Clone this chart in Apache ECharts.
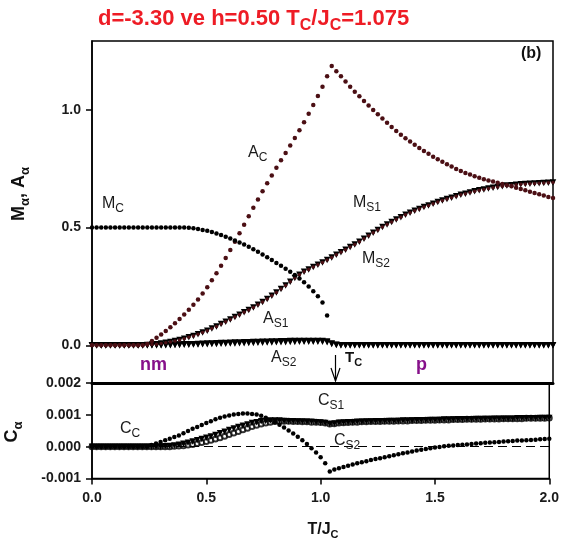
<!DOCTYPE html>
<html>
<head>
<meta charset="utf-8">
<script src="https://cdn.jsdelivr.net/npm/echarts@6/dist/echarts.min.js"></script>
<style>
html, body { margin: 0; padding: 0; background: #fff; }
#chart { width: 562px; height: 552px; }
</style>
</head>
<body>
<div id="chart"></div>
<script>
// temperature grid T/Jc, step 0.02 from 0 to 2
var temps = [];
for (var i = 0; i <= 100; i++) temps.push(+(i * 0.02).toFixed(2));

// upper panel: order parameters
var mC = [
  0.5, 0.5, 0.5, 0.5, 0.5, 0.5, 0.5, 0.5, 0.5, 0.5,
  0.5, 0.5, 0.5, 0.5, 0.5, 0.5, 0.5, 0.5, 0.5, 0.5,
  0.5, 0.499, 0.497, 0.494, 0.490, 0.486, 0.481, 0.475, 0.468, 0.461,
  0.453, 0.445, 0.437, 0.428, 0.418, 0.408, 0.397, 0.386, 0.374, 0.362,
  0.350, 0.338, 0.325, 0.312, 0.298, 0.284, 0.268, 0.250, 0.230, 0.208,
  0.182, 0.127
];
var aC = [
  0, 0, 0, 0, 0, 0, 0, 0, 0, 0,
  0, 0, 0.006, 0.018, 0.032, 0.046, 0.061, 0.077, 0.094, 0.112,
  0.131, 0.151, 0.172, 0.195, 0.220, 0.247, 0.276, 0.306, 0.338, 0.371,
  0.405, 0.440, 0.476, 0.512, 0.548, 0.584, 0.619, 0.654, 0.688, 0.721,
  0.754, 0.786, 0.817, 0.848, 0.880, 0.913, 0.947, 0.983, 1.020, 1.058,
  1.098, 1.142, 1.186, 1.164, 1.142, 1.120, 1.098, 1.077, 1.057, 1.037,
  1.018, 0.999, 0.981, 0.963, 0.945, 0.927, 0.910, 0.894, 0.879, 0.865,
  0.851, 0.838, 0.825, 0.813, 0.801, 0.790, 0.779, 0.769, 0.759, 0.749,
  0.740, 0.732, 0.725, 0.718, 0.711, 0.705, 0.700, 0.695, 0.690, 0.685,
  0.680, 0.675, 0.669, 0.664, 0.658, 0.652, 0.647, 0.641, 0.636, 0.630,
  0.625
];
var mS1 = [
  0, 0, 0, 0, 0, 0, 0, 0, 0, 0,
  0, 0, 0.001, 0.003, 0.005, 0.008, 0.011, 0.014, 0.018, 0.023,
  0.028, 0.034, 0.040, 0.047, 0.054, 0.062, 0.071, 0.080, 0.090, 0.100,
  0.110, 0.120, 0.130, 0.140, 0.150, 0.161, 0.172, 0.184, 0.197, 0.210,
  0.224, 0.239, 0.254, 0.270, 0.286, 0.300, 0.312, 0.322, 0.332, 0.342,
  0.352, 0.362, 0.373, 0.384, 0.395, 0.406, 0.417, 0.428, 0.440, 0.452,
  0.465, 0.478, 0.490, 0.502, 0.513, 0.524, 0.534, 0.544, 0.554, 0.563,
  0.571, 0.579, 0.587, 0.594, 0.601, 0.608, 0.615, 0.621, 0.627, 0.633,
  0.639, 0.644, 0.649, 0.654, 0.658, 0.662, 0.666, 0.669, 0.672, 0.675,
  0.678, 0.680, 0.682, 0.684, 0.685, 0.686, 0.687, 0.688, 0.689, 0.690,
  0.691
];
// M_S2 sits on top of M_S1 in the figure
var mS2 = mS1;
var aS1 = [
  0, 0, 0, 0, 0, 0, 0, 0, 0, 0,
  0, 0, 0, 0, 0, 0.0005, 0.001, 0.0015, 0.002, 0.003,
  0.004, 0.0045, 0.005, 0.006, 0.007, 0.0075, 0.008, 0.009, 0.0095, 0.010,
  0.011, 0.0115, 0.012, 0.013, 0.0135, 0.014, 0.0145, 0.015, 0.0155, 0.016,
  0.0165, 0.017, 0.0175, 0.018, 0.018, 0.0185, 0.0185, 0.0185, 0.0185, 0.0185,
  0.0185, 0.016, 0.008, 0.002, 0, 0, 0, 0, 0, 0,
  0, 0, 0, 0, 0, 0, 0, 0, 0, 0,
  0, 0, 0, 0, 0, 0, 0, 0, 0, 0,
  0, 0, 0, 0, 0, 0, 0, 0, 0, 0,
  0, 0, 0, 0, 0, 0, 0, 0, 0, 0,
  0
];
var aS2 = [
  0, 0, 0, 0, 0, 0, 0, 0, 0, 0,
  0, 0, 0, 0, 0, 0, 0, 0.0005, 0.001, 0.0015,
  0.002, 0.0025, 0.003, 0.0035, 0.004, 0.005, 0.0055, 0.006, 0.0065, 0.007,
  0.0075, 0.008, 0.0085, 0.009, 0.0095, 0.010, 0.0105, 0.011, 0.0115, 0.012,
  0.0125, 0.013, 0.0135, 0.014, 0.0145, 0.015, 0.015, 0.015, 0.015, 0.015,
  0.015, 0.013, 0.006, 0.001, 0, 0, 0, 0, 0, 0,
  0, 0, 0, 0, 0, 0, 0, 0, 0, 0,
  0, 0, 0, 0, 0, 0, 0, 0, 0, 0,
  0, 0, 0, 0, 0, 0, 0, 0, 0, 0,
  0, 0, 0, 0, 0, 0, 0, 0, 0, 0,
  0
];

// lower panel: response functions
var cC = [
  0, 0, 0, 0, 0, 0, 0, 0, 0, 0,
  0, 0, 0, 0.00005, 0.0001, 0.00015, 0.0002, 0.00025, 0.0003, 0.00035,
  0.00042, 0.00049, 0.00056, 0.00062, 0.00068, 0.00074, 0.0008, 0.00086, 0.00091, 0.00095,
  0.00098, 0.00101, 0.00103, 0.00104, 0.00104, 0.00103, 0.00101, 0.00097, 0.00091, 0.00084,
  0.00077, 0.00069, 0.0006, 0.00051, 0.00041, 0.00031, 0.0002, 0.00008, -0.00005, -0.00018,
  -0.00033, -0.00052, -0.00078, -0.00072, -0.00068, -0.00064, -0.0006, -0.00056, -0.00052, -0.00049,
  -0.00046, -0.00042, -0.00039, -0.00036, -0.00033, -0.0003, -0.00027, -0.00024, -0.00021, -0.00018,
  -0.00015, -0.00012, -0.0001, -0.00007, -0.00005, -0.00003, -0.00001, 0.00001, 0.00003, 0.00004,
  0.00005, 0.00006, 0.00007, 0.00008, 0.0001, 0.00011, 0.00012, 0.00013, 0.00014, 0.00015,
  0.00016, 0.00017, 0.00018, 0.00019, 0.00019, 0.0002, 0.00021, 0.00022, 0.00023, 0.00024,
  0.00025
];
var cS1 = [
  0, 0, 0, 0, 0, 0, 0, 0, 0, 0,
  0, 0, 0, 0, 0, 0, 0.00001, 0.00002, 0.00004, 0.00006,
  0.00009, 0.00012, 0.00016, 0.0002, 0.00024, 0.00028, 0.00032, 0.00037, 0.00042, 0.00047,
  0.00052, 0.00057, 0.00062, 0.00066, 0.0007, 0.00074, 0.00077, 0.0008, 0.00081, 0.00082,
  0.00082, 0.00082, 0.00081, 0.0008, 0.0008, 0.00079, 0.00079, 0.00078, 0.00078, 0.00077,
  0.00076, 0.00074, 0.00071, 0.00073, 0.00075, 0.00076, 0.00077, 0.00077, 0.00078, 0.00078,
  0.00079, 0.00079, 0.0008, 0.0008, 0.0008, 0.00081, 0.00081, 0.00081, 0.00082, 0.00082,
  0.00082, 0.00083, 0.00083, 0.00083, 0.00084, 0.00084, 0.00084, 0.00085, 0.00085, 0.00085,
  0.00086, 0.00086, 0.00086, 0.00086, 0.00087, 0.00087, 0.00087, 0.00087, 0.00088, 0.00088,
  0.00088, 0.00088, 0.00088, 0.00089, 0.00089, 0.00089, 0.00089, 0.00089, 0.0009, 0.0009,
  0.0009
];
var cS2 = [
  0, 0, 0, 0, 0, 0, 0, 0, 0, 0,
  0, 0, 0, 0, 0, 0, 0, 0, 0.00001, 0.00002,
  0.00003, 0.00005, 0.00007, 0.0001, 0.00013, 0.00016, 0.0002, 0.00024, 0.00028, 0.00033,
  0.00038, 0.00043, 0.00048, 0.00053, 0.00058, 0.00063, 0.00067, 0.00071, 0.00074, 0.00077,
  0.00079, 0.0008, 0.0008, 0.0008, 0.00079, 0.00079, 0.00078, 0.00078, 0.00077, 0.00077,
  0.00076, 0.00074, 0.00071, 0.00072, 0.00074, 0.00075, 0.00076, 0.00077, 0.00077, 0.00078,
  0.00078, 0.00079, 0.00079, 0.00079, 0.0008, 0.0008, 0.0008, 0.00081, 0.00081, 0.00081,
  0.00082, 0.00082, 0.00082, 0.00083, 0.00083, 0.00083, 0.00084, 0.00084, 0.00084, 0.00085,
  0.00085, 0.00085, 0.00086, 0.00086, 0.00086, 0.00086, 0.00087, 0.00087, 0.00087, 0.00087,
  0.00088, 0.00088, 0.00088, 0.00088, 0.00088, 0.00089, 0.00089, 0.00089, 0.00089, 0.00089,
  0.0009
];

var upperTicks = [0, 0.5, 1.0];

var FONT = 'Liberation Sans, Arial, Helvetica, sans-serif';
var DARKRED = '#4b0f14';

function pts(vals) {
  return vals.map(function (v, i) { return [temps[i], v]; });
}

// text with a subscript, top-left anchored
function tag(x, y, main, low, size, color, weight) {
  size = size || 16;
  color = color || '#1a1a1a';
  weight = weight || 'normal';
  var rich = {
    m: { fontSize: size, fontFamily: FONT, fontWeight: weight, fill: color, verticalAlign: 'top' },
    s: { fontSize: Math.round(size * 0.72), fontFamily: FONT, fontWeight: weight, fill: color,
         verticalAlign: 'top', padding: [Math.round(size * 0.45), 0, 0, 0] }
  };
  return {
    type: 'text', x: x, y: y, z: 100,
    style: {
      text: '{m|' + main + '}' + (low ? '{s|' + low + '}' : ''),
      rich: rich, align: 'left', verticalAlign: 'top'
    }
  };
}

// rotated / centred axis titles
function axisTitle(x, y, text, rot, size) {
  return {
    type: 'text', x: x, y: y, rotation: rot, z: 100,
    style: {
      text: text, align: 'center', verticalAlign: 'middle',
      rich: {
        m: { fontSize: size, fontWeight: 'bold', fontFamily: FONT, fill: '#111', verticalAlign: 'top' },
        s: { fontSize: Math.round(size * 0.7), fontWeight: 'bold', fontFamily: FONT, fill: '#111',
             verticalAlign: 'top', padding: [Math.round(size * 0.45), 0, 0, 0] }
      }
    }
  };
}

function dots(name, vals, g, color, size) {
  return {
    name: name, type: 'scatter', xAxisIndex: g, yAxisIndex: g,
    data: pts(vals), symbol: 'circle', symbolSize: size || 4.5,
    itemStyle: { color: color, opacity: 1 }, silent: true
  };
}
function tris(name, vals, g) {
  return {
    name: name, type: 'scatter', xAxisIndex: g, yAxisIndex: g,
    data: pts(vals), symbol: 'triangle', symbolRotate: 180, symbolSize: 6.5,
    itemStyle: { color: '#000', opacity: 1 }, silent: true
  };
}

var myChart = echarts.init(document.getElementById('chart'));

var labelStyle = { fontFamily: FONT, fontWeight: 'bold', fontSize: 14, color: '#1a1a1a' };

var option = {
  animation: false,
  backgroundColor: '#fff',
  grid: [
    { left: 92, right: 9, top: 41, height: 342, show: true, borderColor: '#000', borderWidth: 1.5 },
    { left: 92, right: 9, top: 383, height: 95.5, show: true, borderColor: '#000', borderWidth: 1.5 }
  ],
  xAxis: [
    {
      gridIndex: 0, type: 'value', min: 0, max: 2,
      axisLine: { onZero: false, lineStyle: { color: '#000', width: 3 } },
      axisTick: { show: false }, axisLabel: { show: false }, splitLine: { show: false }
    },
    {
      gridIndex: 1, type: 'value', min: 0, max: 2, interval: 0.5,
      axisLine: { onZero: false, lineStyle: { color: '#000', width: 1.5 } },
      axisTick: { show: true, length: 6, lineStyle: { color: '#000', width: 1.5 } },
      axisLabel: Object.assign({ margin: 13, formatter: function (v) { return v.toFixed(1); } }, labelStyle),
      splitLine: { show: false }
    }
  ],
  yAxis: [
    {
      gridIndex: 0, type: 'value', min: -0.16, max: 1.292,
      axisLine: { show: true, onZero: false, lineStyle: { color: '#000', width: 1.5 } },
      axisTick: { show: true, length: 6, customValues: upperTicks, lineStyle: { color: '#000', width: 1.5 } },
      axisLabel: Object.assign({ margin: 11, customValues: upperTicks,
        formatter: function (v) { return v.toFixed(1); } }, labelStyle),
      splitLine: { show: false }
    },
    {
      gridIndex: 1, type: 'value', min: -0.001, max: 0.002, interval: 0.001,
      axisLine: { show: true, onZero: false, lineStyle: { color: '#000', width: 1.5 } },
      axisTick: { show: true, length: 6, lineStyle: { color: '#000', width: 1.5 } },
      axisLabel: Object.assign({ margin: 11,
        formatter: function (v) { return v.toFixed(3); } }, labelStyle),
      splitLine: { show: false }
    }
  ],
  series: [
    tris('A_S2', aS2, 0),
    tris('A_S1', aS1, 0),
    tris('M_S1', mS1, 0),
    dots('M_S2', mS2, 0, DARKRED, 3.5),
    dots('A_C', aC, 0, DARKRED),
    dots('M_C', mC, 0, '#000'),
    {
      name: 'C_S2', type: 'scatter', xAxisIndex: 1, yAxisIndex: 1,
      data: pts(cS2), symbol: 'emptyCircle', symbolSize: 5,
      itemStyle: { color: '#000', borderColor: '#000', borderWidth: 0.8 }, silent: true
    },
    tris('C_S1', cS1, 1),
    Object.assign(dots('C_C', cC, 1, '#000'), {
      markLine: {
        silent: true, symbol: ['none', 'none'], label: { show: false },
        lineStyle: { color: '#000', width: 1, type: [9, 5] },
        data: [{ yAxis: 0 }]
      }
    })
  ],
  graphic: [
    {
      type: 'text', x: 98, y: 8, z: 100,
      style: {
        text: '{a|d=-3.30 ve h=0.50 T}{s|C}{a|/J}{s|C}{a|=1.075}',
        align: 'left', verticalAlign: 'top',
        rich: {
          a: { fontSize: 22, fontWeight: 'bold', fontFamily: FONT, fill: '#ee1c25', verticalAlign: 'top' },
          s: { fontSize: 16, fontWeight: 'bold', fontFamily: FONT, fill: '#ee1c25', verticalAlign: 'top', padding: [10, 0, 0, 0] }
        }
      }
    },
    {
      type: 'text', x: 521, y: 46, z: 100,
      style: { text: '(b)', fontSize: 16, fontWeight: 'bold', fontFamily: FONT, fill: '#111', align: 'left', verticalAlign: 'top' }
    },
    tag(248, 145, 'A', 'C'),
    tag(102, 196, 'M', 'C'),
    tag(353, 195, 'M', 'S1'),
    tag(362, 251, 'M', 'S2'),
    tag(263, 311, 'A', 'S1'),
    tag(271, 350, 'A', 'S2'),
    tag(120, 421, 'C', 'C'),
    tag(318, 393, 'C', 'S1'),
    tag(334, 433, 'C', 'S2'),
    tag(345, 350, 'T', 'C', 15, '#111', 'bold'),
    {
      type: 'text', x: 140, y: 356, z: 100,
      style: { text: 'nm', fontSize: 18, fontWeight: 'bold', fontFamily: FONT, fill: '#86108a', align: 'left', verticalAlign: 'top' }
    },
    {
      type: 'text', x: 416, y: 356, z: 100,
      style: { text: 'p', fontSize: 18, fontWeight: 'bold', fontFamily: FONT, fill: '#86108a', align: 'left', verticalAlign: 'top' }
    },
    {
      type: 'line', z: 100,
      shape: { x1: 335.5, y1: 355, x2: 335.5, y2: 381 },
      style: { stroke: '#000', lineWidth: 1.2 }
    },
    {
      type: 'polyline', z: 100,
      shape: { points: [[331, 368], [335.5, 381], [340, 368]] },
      style: { stroke: '#000', lineWidth: 1.2, fill: null }
    },
    axisTitle(21, 194, '{m|M}{s|α}{m|, A}{s|α}', Math.PI / 2, 18),
    axisTitle(14, 432, '{m|C}{s|α}', Math.PI / 2, 18),
    axisTitle(323, 531, '{m|T/J}{s|C}', 0, 16)
  ]
};

myChart.setOption(option);
</script>
</body>
</html>
